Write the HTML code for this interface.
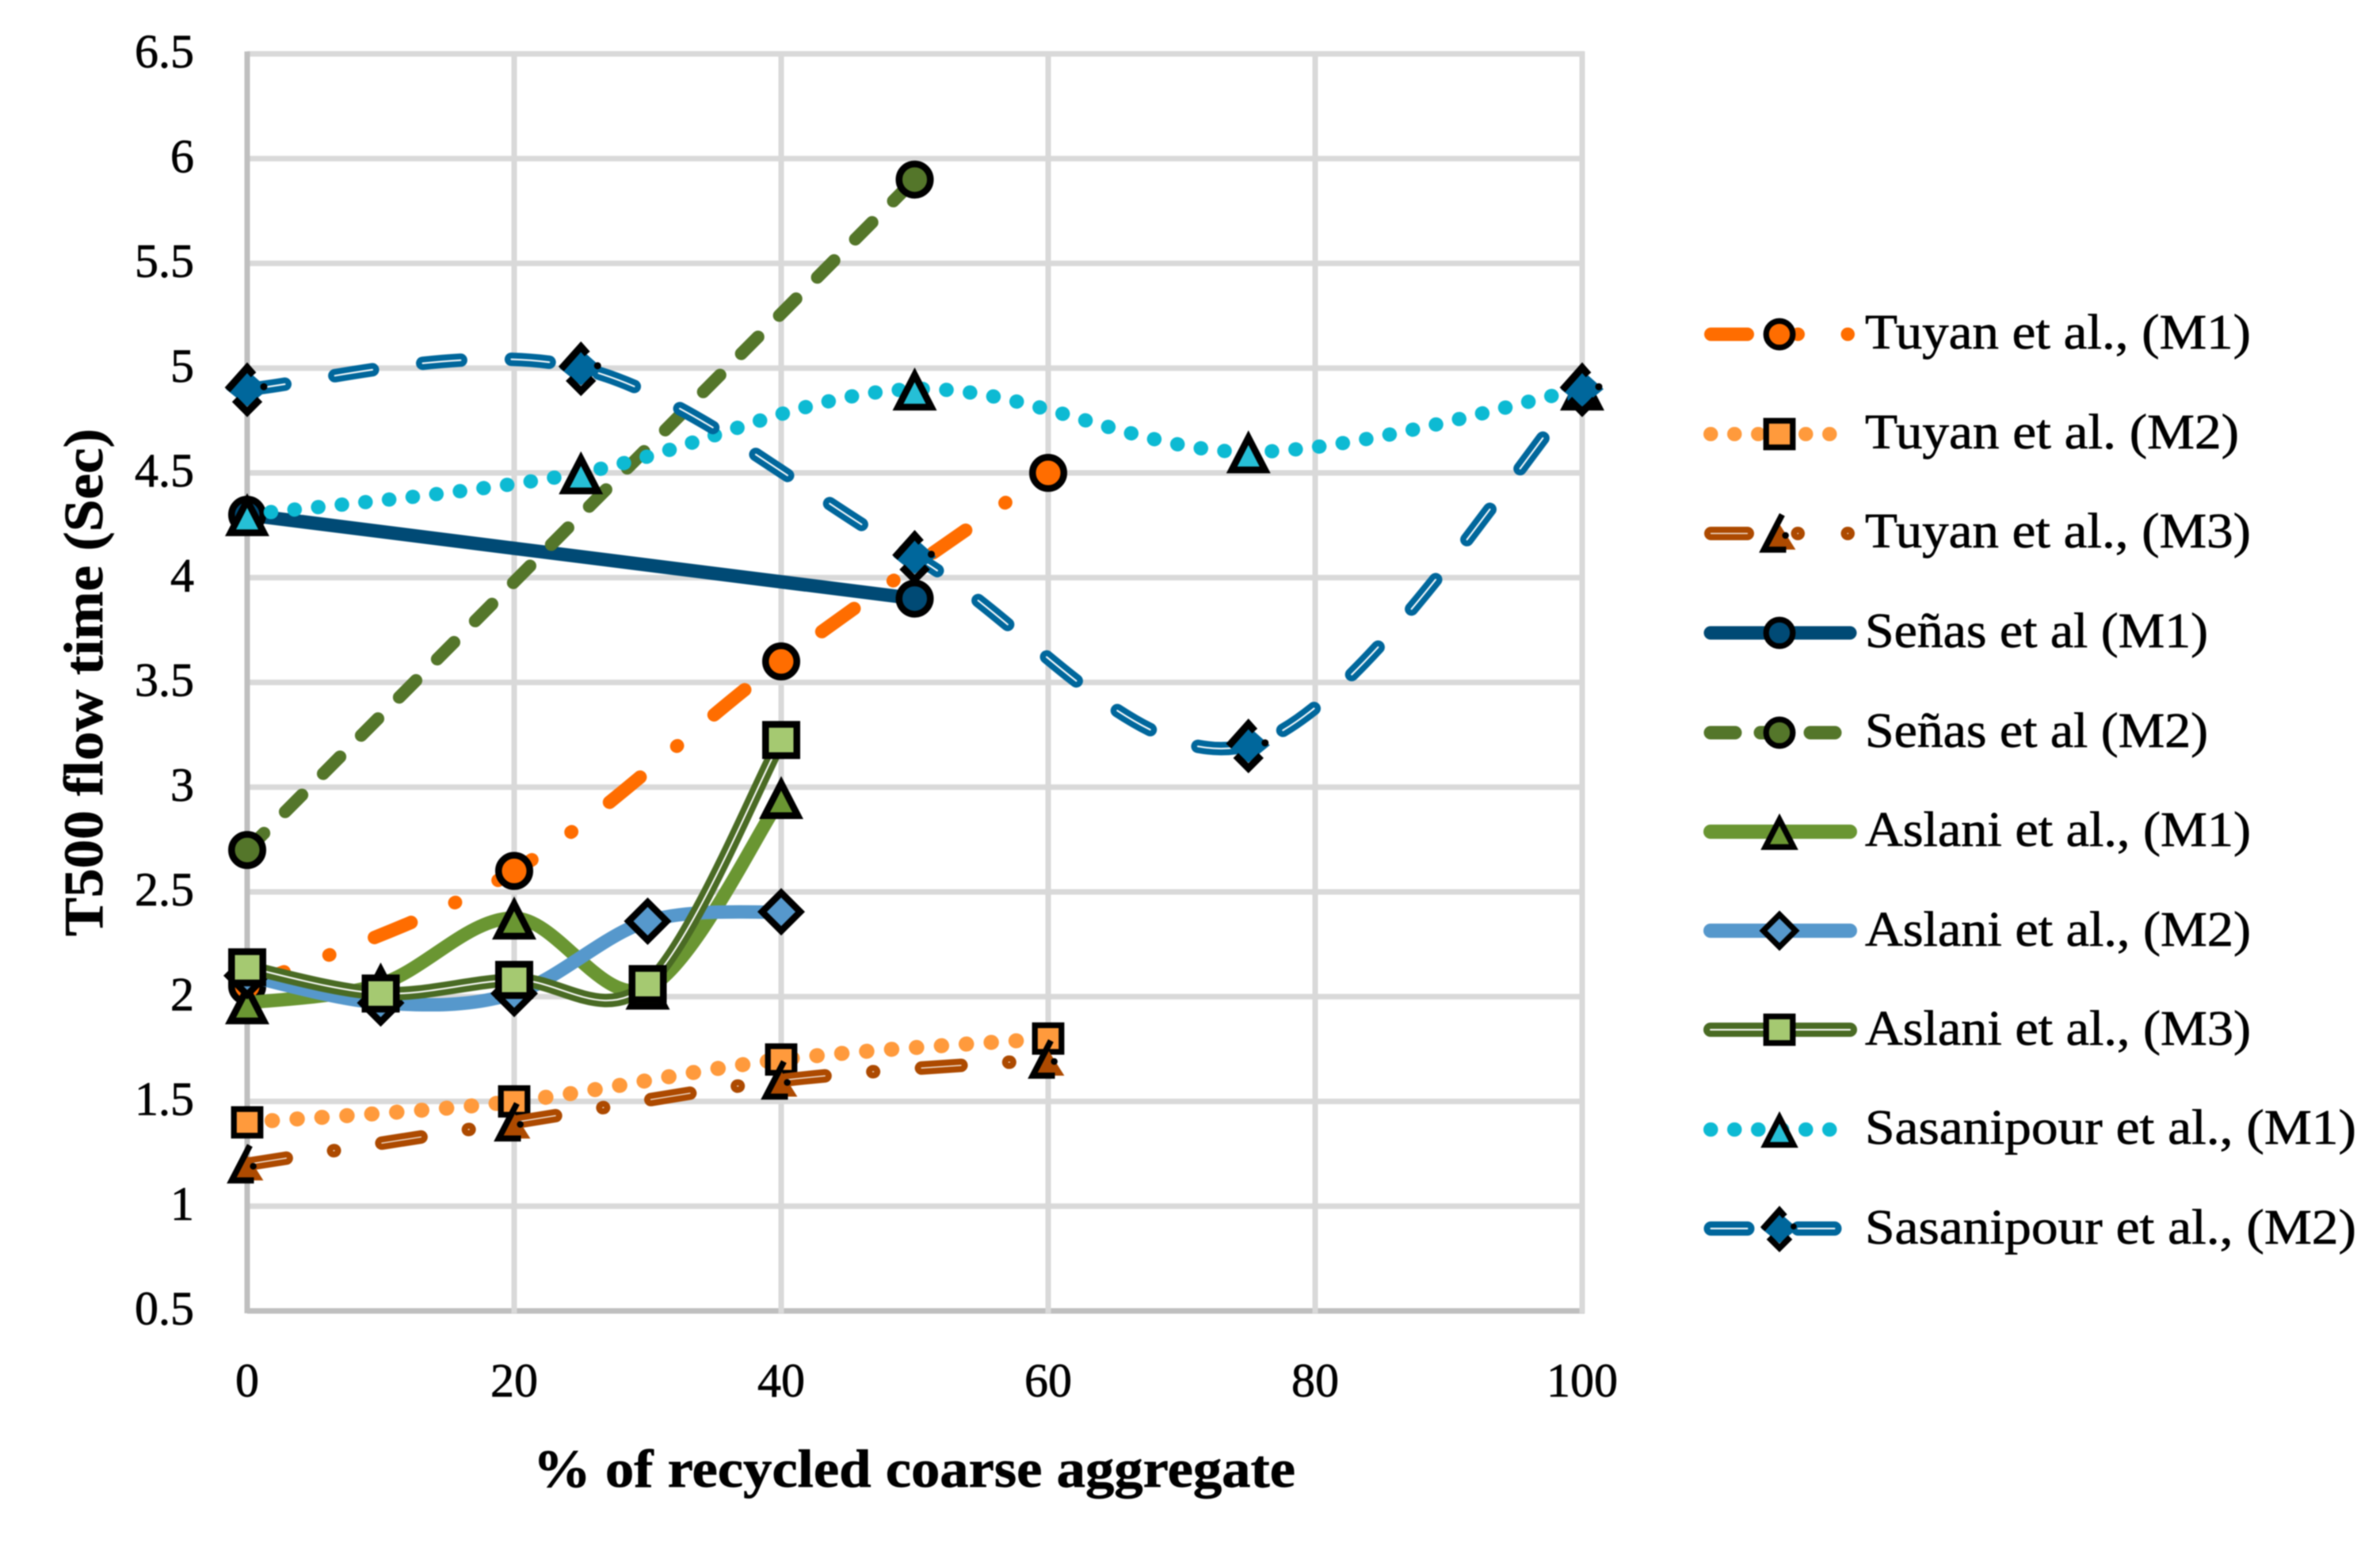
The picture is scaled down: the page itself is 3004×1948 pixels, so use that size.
<!DOCTYPE html>
<html lang="en">
<head>
<meta charset="utf-8">
<title>T500 flow time vs % of recycled coarse aggregate</title>
<style>
html,body{margin:0;padding:0;background:#fff;}
svg{display:block;filter:blur(0.7px);}
text{font-family:"Liberation Serif",serif;fill:#000;stroke:#000;stroke-width:0.7px;}
</style>
</head>
<body>
<svg id="chart" xmlns="http://www.w3.org/2000/svg" width="3004" height="1948" viewBox="0 0 3004 1948">
  <rect x="0" y="0" width="3004" height="1948" fill="#ffffff"/>
  <g id="grid"></g>
  <g id="yticks"></g>
  <g id="xticks"></g>
  <g id="series"></g>
  <text transform="translate(129,1182) rotate(-90)" font-size="70" font-weight="700" textLength="641" lengthAdjust="spacingAndGlyphs">T500 flow time (Sec)</text>
  <text x="673" y="1877" font-size="68" font-weight="700" textLength="962" lengthAdjust="spacingAndGlyphs">% of recycled coarse aggregate</text>
  <g>
    <g id="leg0"><text x="2354" y="440" font-size="62" textLength="487" lengthAdjust="spacingAndGlyphs">Tuyan et al., (M1)</text></g>
    <g id="leg1"><text x="2354" y="566" font-size="62" textLength="472" lengthAdjust="spacingAndGlyphs">Tuyan et al. (M2)</text></g>
    <g id="leg2"><text x="2354" y="691" font-size="62" textLength="487" lengthAdjust="spacingAndGlyphs">Tuyan et al., (M3)</text></g>
    <g id="leg3"><text x="2354" y="817" font-size="62" textLength="433" lengthAdjust="spacingAndGlyphs">Señas et al (M1)</text></g>
    <g id="leg4"><text x="2354" y="943" font-size="62" textLength="433" lengthAdjust="spacingAndGlyphs">Señas et al (M2)</text></g>
    <g id="leg5"><text x="2354" y="1068" font-size="62" textLength="487" lengthAdjust="spacingAndGlyphs">Aslani et al., (M1)</text></g>
    <g id="leg6"><text x="2354" y="1194" font-size="62" textLength="487" lengthAdjust="spacingAndGlyphs">Aslani et al., (M2)</text></g>
    <g id="leg7"><text x="2354" y="1319" font-size="62" textLength="487" lengthAdjust="spacingAndGlyphs">Aslani et al., (M3)</text></g>
    <g id="leg8"><text x="2354" y="1444" font-size="62" textLength="620" lengthAdjust="spacingAndGlyphs">Sasanipour et al., (M1)</text></g>
    <g id="leg9"><text x="2354" y="1570" font-size="62" textLength="620" lengthAdjust="spacingAndGlyphs">Sasanipour et al., (M2)</text></g>
  </g>
</svg>
<script>
// ---- chart data ----
const yTickLabels = ['0.5','1','1.5','2','2.5','3','3.5','4','4.5','5','5.5','6','6.5'];
const xTickLabels = ['0','20','40','60','80','100'];

const tuyanM1X = [0, 20, 40, 60];
const tuyanM1Y = [2.05, 2.6, 3.6, 4.5];
const tuyanM2X = [0, 20, 40, 60];
const tuyanM2Y = [1.4, 1.5, 1.7, 1.8];
const tuyanM3X = [0, 20, 40, 60];
const tuyanM3Y = [1.2, 1.4, 1.6, 1.7];
const senasM1X = [0, 50];
const senasM1Y = [4.3, 3.9];
const senasM2X = [0, 50];
const senasM2Y = [2.7, 5.9];
const aslaniM1X = [0, 10, 20, 30, 40];
const aslaniM1Y = [1.97, 2.06, 2.375, 2.04, 2.95];
const aslaniM2X = [0, 10, 20, 30, 40];
const aslaniM2Y = [2.1, 1.97, 2.015, 2.36, 2.405];
const aslaniM3X = [0, 10, 20, 30, 40];
const aslaniM3Y = [2.14, 2.015, 2.08, 2.06, 3.225];
const sasanipourM1X = [0, 25, 50, 75, 100];
const sasanipourM1Y = [4.3, 4.5, 4.9, 4.6, 4.9];
const sasanipourM2X = [0, 25, 50, 75, 100];
const sasanipourM2Y = [4.9, 5.0, 4.1, 3.2, 4.9];

// ---- axis functions ----
const xMin = 0, xMax = 100, yMin = 0.5, yMax = 6.5;
const plotLeft = 312, plotRight = 1997, plotTop = 68, plotBottom = 1655;
function sx(v){ return plotLeft + (v - xMin) / (xMax - xMin) * (plotRight - plotLeft); }
function sy(v){ return plotBottom - (v - yMin) / (yMax - yMin) * (plotBottom - plotTop); }

const NS = 'http://www.w3.org/2000/svg';
function mk(tag, attrs, parent){
  const e = document.createElementNS(NS, tag);
  for (const k in attrs) e.setAttribute(k, attrs[k]);
  parent.appendChild(e);
  return e;
}

// ---- grid ----
const gridG = document.getElementById('grid');
yTickLabels.forEach(function(t){
  const v = parseFloat(t);
  const axis = v === yMin;
  const g = mk('line', {x1: plotLeft, x2: plotRight + 3, y1: sy(v), y2: sy(v), stroke: axis ? '#bfbfbf' : '#d9d9d9', 'stroke-width': 7}, gridG);
  
  
});
xTickLabels.forEach(function(t){
  const v = parseFloat(t);
  const axis = v === xMin;
  const g = mk('line', {x1: sx(v), x2: sx(v), y1: plotTop - 3, y2: plotBottom + 3, stroke: axis ? '#bfbfbf' : '#d9d9d9', 'stroke-width': 7}, gridG);
  
  
});

// ---- tick labels ----
const yG = document.getElementById('yticks');
yTickLabels.forEach(function(t){
  const e = mk('text', {x: 245, y: sy(parseFloat(t)) + 17, 'font-size': 60, 'text-anchor': 'end'}, yG);
  e.textContent = t;
  
  
});
const xG = document.getElementById('xticks');
xTickLabels.forEach(function(t){
  const e = mk('text', {x: sx(parseFloat(t)), y: 1763, 'font-size': 60, 'text-anchor': 'middle'}, xG);
  e.textContent = t;
  
  
});

// ---- markers ----
function drawMarker(kind, fill, x, y, s, parent){
  const g = mk('g', {transform: 'translate(' + x + ',' + y + ') scale(' + s + ')'}, parent);
  const st = {fill: fill, stroke: '#000', 'stroke-width': 8.5, 'stroke-linejoin': 'miter'};
  if (kind === 'circle') {
    mk('ellipse', Object.assign({cx: 0, cy: 0, rx: 19.75, ry: 19.75}, st), g);
  } else if (kind === 'square') {
    mk('rect', Object.assign({x: -19.75, y: -19.75, width: 39.5, height: 39.5}, st), g);
  } else if (kind === 'triangle') {
    mk('polygon', Object.assign({points: '0,-18 21,22.75 -21,22.75'}, st), g);
  } else if (kind === 'diamond') {
    mk('polygon', Object.assign({points: '0,-24 24,0 0,24 -24,0'}, st), g);
  } else if (kind === 'brokenTriangle') {
    mk('polygon', {points: '0,-14 24,24 -22,24', fill: fill}, g);
    mk('path', {d: 'M4,-28 L-23,24 L10,24', fill: 'none', stroke: '#000', 'stroke-width': 9}, g);
    mk('circle', {cx: 9, cy: 3, r: 5, fill: '#000'}, g);
  } else if (kind === 'brokenDiamond') {
    mk('polygon', {points: '0,-24 27,0 0,22 -27,0', fill: fill}, g);
    mk('path', {d: 'M-25,1 L0,-27 L8,-18', fill: 'none', stroke: '#000', 'stroke-width': 9}, g);
    mk('path', {d: 'M-16,13 L0,29 L16,13', fill: 'none', stroke: '#000', 'stroke-width': 9}, g);
    mk('circle', {cx: 21, cy: -3, r: 4.5, fill: '#000'}, g);
  }
  return g;
}

// ---- line path: straight or smooth (Catmull-Rom as Excel-style smoothing) ----
function linePath(xs, ys, smooth){
  const p = xs.map(function(v, i){ return [sx(v), sy(ys[i])]; });
  let d = 'M' + p[0][0] + ',' + p[0][1];
  for (let i = 0; i < p.length - 1; i++) {
    if (!smooth) { d += ' L' + p[i+1][0] + ',' + p[i+1][1]; continue; }
    const p0 = p[Math.max(i - 1, 0)], p1 = p[i], p2 = p[i + 1], p3 = p[Math.min(i + 2, p.length - 1)];
    const c1x = p1[0] + (p2[0] - p0[0]) / 6, c1y = p1[1] + (p2[1] - p0[1]) / 6;
    const c2x = p2[0] - (p3[0] - p1[0]) / 6, c2y = p2[1] - (p3[1] - p1[1]) / 6;
    d += ' C' + c1x + ',' + c1y + ' ' + c2x + ',' + c2y + ' ' + p2[0] + ',' + p2[1];
  }
  return d;
}

function strokeLine(d, color, width, dash, inner, parent){
  const a = {d: d, fill: 'none', stroke: color, 'stroke-width': width, 'stroke-linecap': 'round', 'stroke-linejoin': 'round'};
  if (dash) a['stroke-dasharray'] = dash;
  const main = mk('path', a, parent);
  if (inner) {
    const b = Object.assign({}, a, {stroke: '#ffffff', 'stroke-width': inner});
    mk('path', b, parent);
  }
  return main;
}

// ---- series styling ----
const seriesList = [
  {slug:'tuyan-m1', xs:tuyanM1X, ys:tuyanM1Y, color:'#ff6d00', fill:'#ff6d00', w:17, dash:'50 60.5 1 60.5', inner:0, smooth:true, kind:'circle', s:1, legDash:'46 63.5 0.5 62.5 0.5 99', legFrom:2159.5, legTo:2335, legW:17},
  {slug:'tuyan-m2', xs:tuyanM2X, ys:tuyanM2Y, color:'#ff9a3c', fill:'#ff9a3c', w:19, dash:'0.5 31', inner:0, smooth:true, kind:'square', s:0.85, legDash:'0.5 29.5', legFrom:2159, legTo:2315, legW:18},
  {slug:'tuyan-m3', xs:tuyanM3X, ys:tuyanM3Y, color:'#ad4a00', fill:'#ad4a00', w:17, dash:'50 60.5 1 60.5', inner:1.2, smooth:true, kind:'brokenTriangle', s:0.85, legDash:'46 63.5 0.5 62.5 0.5 99', legFrom:2159.5, legTo:2335, legW:17},
  {slug:'senas-m1', xs:senasM1X, ys:senasM1Y, color:'#004a75', fill:'#004a75', w:17, dash:'', inner:0, smooth:false, kind:'circle', s:1, legDash:'', legFrom:2159, legTo:2335, legW:17},
  {slug:'senas-m2', xs:senasM2X, ys:senasM2Y, color:'#54762a', fill:'#54762a', w:16, dash:'30 38', inner:0, smooth:false, kind:'circle', s:1, legDash:'31 32', legFrom:2159, legTo:2316, legW:17},
  {slug:'aslani-m1', xs:aslaniM1X, ys:aslaniM1Y, color:'#6a9632', fill:'#6a9632', w:17, dash:'', inner:0, smooth:true, kind:'triangle', s:1, legDash:'', legFrom:2159, legTo:2335, legW:18},
  {slug:'aslani-m2', xs:aslaniM2X, ys:aslaniM2Y, color:'#5698cc', fill:'#5698cc', w:17, dash:'', inner:0, smooth:true, kind:'diamond', s:1, legDash:'', legFrom:2159, legTo:2335, legW:18},
  {slug:'aslani-m3', xs:aslaniM3X, ys:aslaniM3Y, color:'#4a6b24', fill:'#a5c971', w:17, dash:'', inner:2, smooth:true, kind:'square', s:1, legDash:'', legFrom:2159, legTo:2335, legW:18},
  {slug:'sasanipour-m1', xs:sasanipourM1X, ys:sasanipourM1Y, color:'#0dbad3', fill:'#26bfd6', w:18, dash:'0.5 29.5', inner:0, smooth:true, kind:'triangle', s:1, legDash:'0.5 29.5', legFrom:2159, legTo:2315, legW:18},
  {slug:'sasanipour-m2', xs:sasanipourM2X, ys:sasanipourM2Y, color:'#00679c', fill:'#00679c', w:17, dash:'48 64', inner:2, smooth:true, kind:'brokenDiamond', s:1, legDash:'46 64 46', legFrom:2159.5, legTo:2316, legW:18}
];
const legendRowY = [422, 548, 673.5, 799, 925, 1050, 1175, 1300, 1426, 1551];
const legendMarkerX = 2246;

const seriesG = document.getElementById('series');
seriesList.forEach(function(c, idx){
  const g = mk('g', {}, seriesG);
  
  

  const line = strokeLine(linePath(c.xs, c.ys, c.smooth), c.color, c.w, c.dash, c.inner, g);
  
  

  c.xs.forEach(function(xv, i){
    const m = drawMarker(c.kind, c.fill, sx(xv), sy(c.ys[i]), c.s, g);
    
    
  });

  // legend swatch
  const leg = document.getElementById('leg' + idx);
  const ly = legendRowY[idx];
  const swatch = strokeLine('M' + c.legFrom + ',' + ly + ' L' + c.legTo + ',' + ly, c.color, c.legW, c.legDash, c.inner, leg);
  
  
  const lm = drawMarker(c.kind, c.fill, legendMarkerX, ly, 0.85, leg);
  
  
});
</script>
</body>
</html>
